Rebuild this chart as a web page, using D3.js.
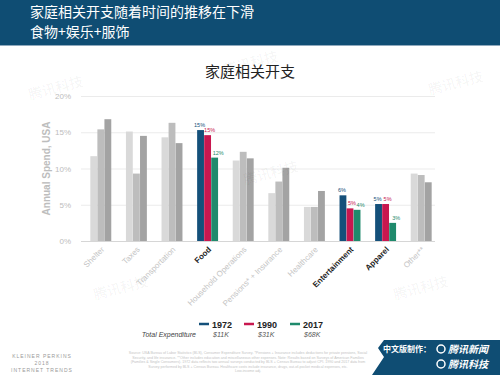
<!DOCTYPE html>
<html>
<head>
<meta charset="utf-8">
<script src="https://cdn.jsdelivr.net/npm/d3@7"></script>
<style>
  body { margin: 0; background: #fff; }
  svg { display: block; font-family: "Liberation Sans", Arial, sans-serif; }
</style>
</head>
<body>
<div id="viz"></div>
<script>
// Data
const categories = ["Shelter", "Taxes", "Transportation", "Food", "Household Operations",
    "Pensions* + Insurance", "Healthcare", "Entertainment", "Apparel", "Other**"];
const highlighted = ["Food", "Entertainment", "Apparel"];
const years = ["1972", "1990", "2017"];
const totals = ["$11K", "$31K", "$68K"];
const spend1972 = [11.7, 15.1, 14.3, 15.3, 11.1, 6.6, 4.7, 6.3, 5.1, 9.3];
const spend1990 = [15.4, 9.3, 16.3, 14.6, 12.3, 8.2, 4.7, 4.5, 5.1, 9.1];
const spend2017 = [16.8, 14.5, 13.5, 11.5, 11.4, 10.1, 6.9, 4.3, 2.5, 8.1];
const barLabels = {
    "Food": ["15%", "15%", "12%"],
    "Entertainment": ["6%", "5%", "4%"],
    "Apparel": ["5%", "5%", "3%"]
};
const yTicks = [0, 5, 10, 15, 20];

const dims = { width: 500, height: 375 };
const yearColors = ["#14507a", "#c8174f", "#1f8a6c"];
const greyColors = ["#d9d9d9", "#bdbdbd", "#a3a3a3"];

const svg = d3.select("#viz").append("svg")
    .attr("width", dims.width)
    .attr("height", dims.height);

// Header band
svg.append("rect")
    .attr("x", 0).attr("y", 0)
    .attr("width", dims.width).attr("height", 45)
    .attr("fill", "#0f4d73");
svg.append("line")
    .attr("x1", 0).attr("x2", dims.width)
    .attr("y1", 45.5).attr("y2", 45.5)
    .attr("stroke", "#8fa9bd").attr("stroke-width", 1);

const header = svg.append("g")
    .attr("fill", "#fff")
    .style("font-family", "'Noto Sans CJK SC', sans-serif")
    .style("font-size", "14px");
header.append("text").attr("x", 30).attr("y", 17).text("家庭相关开支随着时间的推移在下滑");
header.append("text").attr("x", 30).attr("y", 37).text("食物+娱乐+服饰");

// Chart title
svg.append("text")
    .attr("x", 250).attr("y", 77)
    .attr("text-anchor", "middle")
    .attr("fill", "#222")
    .style("font-family", "'Noto Sans CJK SC', sans-serif")
    .style("font-size", "15px")
    .text("家庭相关开支");

// Scales
const xScale = d3.scaleBand()
    .domain(categories)
    .range([83, 439])
    .paddingInner(0.4)
    .paddingOuter(0.2);

const xSub = d3.scaleBand()
    .domain(years)
    .range([0, xScale.bandwidth()])
    .padding(0.03);

const yScale = d3.scaleLinear()
    .domain([0, 20])
    .range([241, 96]);

// Gridlines and y ticks
const grid = svg.append("g");
grid.selectAll("line")
    .data(yTicks)
    .join("line")
    .attr("x1", 81).attr("x2", 435)
    .attr("y1", d => yScale(d) + 0.5).attr("y2", d => yScale(d) + 0.5)
    .attr("stroke", d => d === 0 ? "#d6d6d6" : "#ebebeb")
    .attr("stroke-width", 1);
grid.selectAll("text")
    .data(yTicks)
    .join("text")
    .attr("x", 71)
    .attr("y", d => yScale(d) + 3)
    .attr("text-anchor", "end")
    .attr("fill", "#bdbdbd")
    .style("font-size", "8px")
    .text(d => d + "%");

svg.append("text")
    .attr("transform", `translate(50,${yScale(10)}) rotate(-90)`)
    .attr("text-anchor", "middle")
    .attr("fill", "#bdbdbd")
    .style("font-size", "10px")
    .style("font-weight", "bold")
    .text("Annual Spend, USA");

// Bars
const rows = categories.map((c, i) => ({
    cat: c,
    vals: [spend1972[i], spend1990[i], spend2017[i]]
}));

const groups = svg.append("g").selectAll("g")
    .data(rows)
    .join("g")
    .attr("transform", d => `translate(${xScale(d.cat)},0)`);

groups.selectAll("rect")
    .data(d => d.vals.map((v, j) => ({ cat: d.cat, year: years[j], j: j, v: v })))
    .join("rect")
    .attr("x", d => xSub(d.year))
    .attr("width", xSub.bandwidth())
    .attr("y", d => yScale(d.v))
    .attr("height", d => yScale(0) - yScale(d.v))
    .attr("fill", d => highlighted.includes(d.cat) ? yearColors[d.j] : greyColors[d.j]);

const labelShift = [-1, 2, 3.5];
groups.filter(d => barLabels[d.cat])
    .selectAll("text")
    .data(d => d.vals.map((v, j) => ({ cat: d.cat, year: years[j], j: j, v: v, label: barLabels[d.cat][j] })))
    .join("text")
    .attr("x", d => xSub(d.year) + xSub.bandwidth() / 2 + labelShift[d.j])
    .attr("y", d => yScale(d.v) - 3)
    .attr("text-anchor", "middle")
    .attr("fill", d => yearColors[d.j])
    .style("font-size", "5.5px")
    .text(d => d.label);

// X labels
svg.append("g").selectAll("text")
    .data(categories)
    .join("text")
    .attr("transform", d => `translate(${xScale(d) + xScale.bandwidth() / 2 + 4},${yScale(0) + 9}) rotate(-45)`)
    .attr("text-anchor", "end")
    .attr("fill", d => highlighted.includes(d) ? "#222" : "#c4c4c4")
    .style("font-size", "8px")
    .style("font-weight", d => highlighted.includes(d) ? "bold" : "normal")
    .text(d => d);

// Legend
const legend = svg.append("g");
const legendX = [199, 244, 290];
years.forEach((y, j) => {
    legend.append("line")
        .attr("x1", legendX[j]).attr("x2", legendX[j] + 10)
        .attr("y1", 324).attr("y2", 324)
        .attr("stroke", yearColors[j]).attr("stroke-width", 2.5);
    legend.append("text")
        .attr("x", legendX[j] + 13).attr("y", 327.5)
        .attr("fill", "#222")
        .style("font-size", "9px")
        .style("font-weight", "bold")
        .text(y);
    legend.append("text")
        .attr("x", legendX[j] + 14).attr("y", 337)
        .attr("fill", "#555")
        .style("font-size", "7px")
        .style("font-style", "italic")
        .text(totals[j]);
});
legend.append("text")
    .attr("x", 196).attr("y", 337)
    .attr("text-anchor", "end")
    .attr("fill", "#444")
    .style("font-size", "7px")
    .style("font-style", "italic")
    .text("Total Expenditure");

// Footer
const kp = svg.append("g")
    .attr("fill", "#9a9a9a")
    .style("font-size", "5px")
    .style("letter-spacing", "1px")
    .attr("text-anchor", "middle");
kp.append("text").attr("x", 42).attr("y", 358).text("KLEINER PERKINS");
kp.append("text").attr("x", 42).attr("y", 365).text("2018");
kp.append("text").attr("x", 42).attr("y", 372).text("INTERNET TRENDS");

const src = [
    "Source: USA Bureau of Labor Statistics (BLS), Consumer Expenditure Survey. *Pensions + Insurance includes deductions for private pensions, Social",
    "Security, and life insurance. **Other includes education and miscellaneous other expenses. Note: Results based on Surveys of American Families",
    "(Families & Single Consumers). 1972 data reflects two annual surveys conducted by BLS + Census Bureau to adjust CPI. 1990 and 2017 data from",
    "Survey performed by BLS + Census Bureau. Healthcare costs include insurance, drugs, out-of-pocket medical expenses, etc.",
    "Low-income adj."
];
svg.append("g").selectAll("text")
    .data(src)
    .join("text")
    .attr("x", 248)
    .attr("y", (d, i) => 354 + i * 4.6)
    .attr("text-anchor", "middle")
    .attr("fill", "#c4c4c4")
    .style("font-size", "3.6px")
    .text(d => d);

// Bottom-right tag
svg.append("path")
    .attr("d", "M384,340 L500,340 L500,375 L372,375 L384,357 L378,348 Z")
    .attr("fill", "#0f4d73");
const tag = svg.append("g")
    .attr("fill", "#fff")
    .style("font-family", "'Noto Sans CJK SC', sans-serif")
    .style("font-weight", "bold");
tag.append("text").attr("x", 383).attr("y", 352).style("font-size", "8px").text("中文版制作：");
tag.append("circle").attr("cx", 441).attr("cy", 349).attr("r", 4).attr("fill", "none").attr("stroke", "#fff").attr("stroke-width", 1.5);
tag.append("text").attr("x", 448).attr("y", 353).style("font-size", "10px").style("font-style", "italic").text("腾讯新闻");
tag.append("circle").attr("cx", 441).attr("cy", 364).attr("r", 4).attr("fill", "none").attr("stroke", "#fff").attr("stroke-width", 1.5);
tag.append("text").attr("x", 448).attr("y", 368).style("font-size", "10px").style("font-style", "italic").text("腾讯科技");

// Watermarks
const wm = [[30, 100], [245, 185], [225, 75], [430, 95], [395, 300], [95, 300]];
svg.append("g").selectAll("text")
    .data(wm)
    .join("text")
    .attr("transform", d => `translate(${d[0]},${d[1]}) rotate(-15)`)
    .attr("fill", "#000")
    .attr("fill-opacity", 0.035)
    .style("font-family", "'Noto Sans CJK SC', sans-serif")
    .style("font-size", "14px")
    .style("font-weight", "bold")
    .text("腾讯科技");
</script>
</body>
</html>
